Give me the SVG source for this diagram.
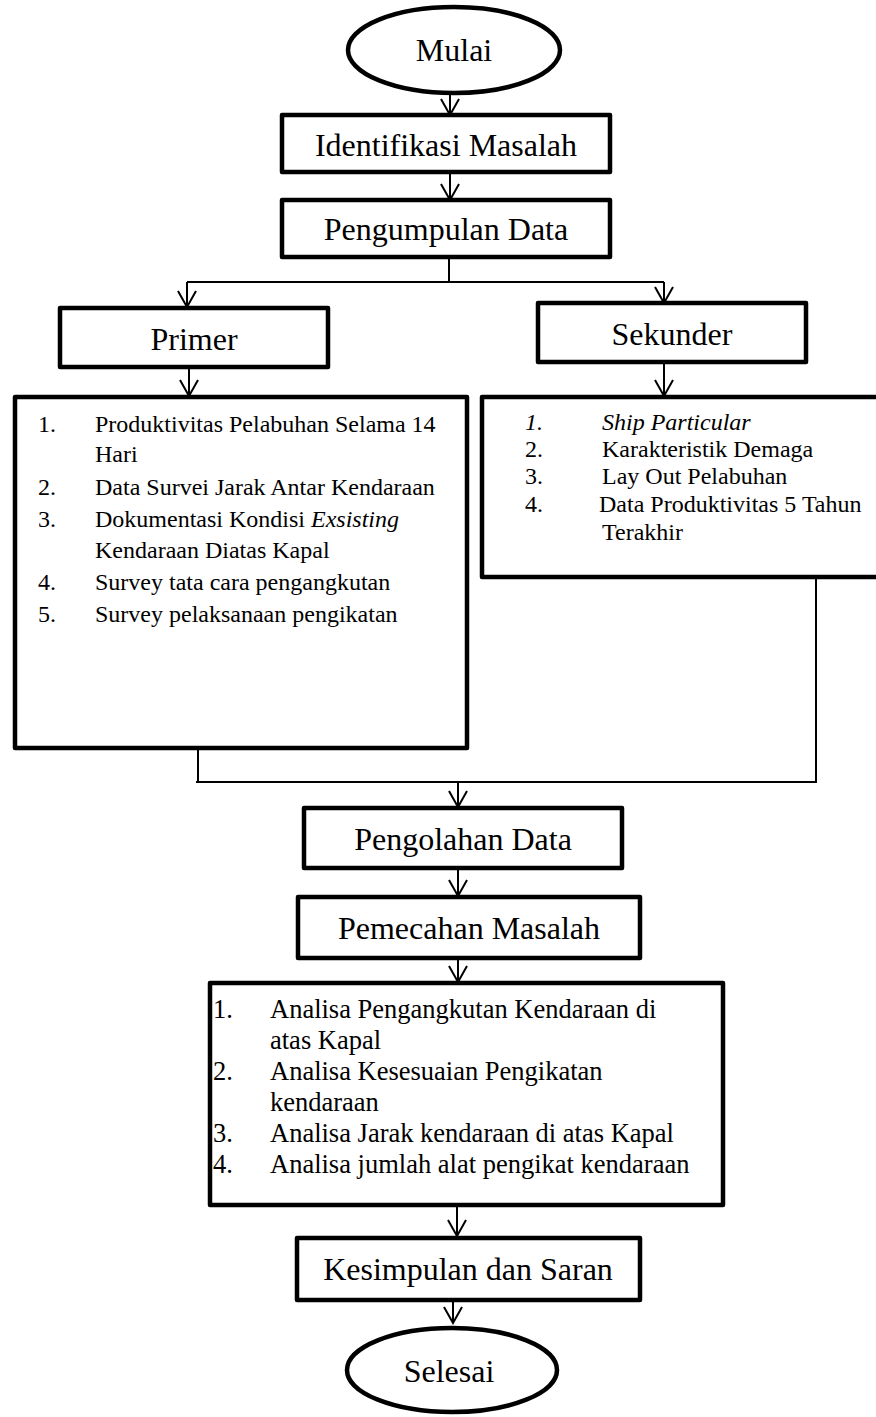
<svg xmlns="http://www.w3.org/2000/svg" width="876" height="1417" viewBox="0 0 876 1417">
<style>
.box{fill:#fff;stroke:#000;stroke-width:4.5;stroke-linejoin:round}
.term{fill:#fff;stroke:#000;stroke-width:4.5}
.con{fill:none;stroke:#000;stroke-width:2}
.arr{fill:none;stroke:#000;stroke-width:2;marker-end:url(#ah)}
.t{font-family:"Liberation Serif","Times New Roman",serif;fill:#000}
.big{font-size:32px;text-anchor:middle}
.l24{font-size:24px}
.l26{font-size:26.5px}
.it{font-style:italic}
</style>
<defs>
<marker id="ah" viewBox="0 0 20 20" refX="18" refY="10" markerWidth="20" markerHeight="20" markerUnits="userSpaceOnUse" orient="auto">
<path d="M2,1 L18,10 L2,19" fill="none" stroke="#000" stroke-width="2"/>
</marker>
</defs>
<rect width="876" height="1417" fill="#fff"/>
<g id="connectors">
<path class="arr" d="M450,93 V115"/>
<path class="arr" d="M450,172 V200"/>
<path class="con" d="M449,257 V282 M187,282 H664"/>
<path class="arr" d="M187,282 V307"/>
<path class="arr" d="M664,282 V303"/>
<path class="arr" d="M189,367 V396"/>
<path class="arr" d="M664,362 V396"/>
<path class="con" d="M198,748 V782 M816,577 V782 M196,782 H817"/>
<path class="arr" d="M458,782 V807"/>
<path class="arr" d="M458,868 V896"/>
<path class="arr" d="M458,958 V982"/>
<path class="arr" d="M457,1205 V1236"/>
<path class="arr" d="M453,1300 V1323"/>
</g>
<g id="mulai">
<ellipse class="term" cx="454" cy="50" rx="106" ry="43"/>
<text class="t big" x="454" y="61">Mulai</text>
</g>
<g id="identifikasi">
<rect class="box" x="282" y="115" width="328" height="57"/>
<text class="t big" x="446" y="156">Identifikasi Masalah</text>
</g>
<g id="pengumpulan">
<rect class="box" x="282" y="200" width="328" height="57"/>
<text class="t big" x="446" y="240">Pengumpulan Data</text>
</g>
<g id="primer">
<rect class="box" x="60" y="308" width="268" height="59"/>
<text class="t big" x="194" y="350">Primer</text>
</g>
<g id="sekunder">
<rect class="box" x="538" y="303" width="268" height="59"/>
<text class="t big" x="672" y="345">Sekunder</text>
</g>
<g id="primer-list">
<rect class="box" x="15" y="397" width="452" height="351"/>
<g class="t l24">
<text x="38" y="432">1.</text><text x="95" y="432">Produktivitas Pelabuhan Selama 14</text>
<text x="95" y="462">Hari</text>
<text x="38" y="495">2.</text><text x="95" y="495">Data Survei Jarak Antar Kendaraan</text>
<text x="38" y="527">3.</text><text x="95" y="527">Dokumentasi Kondisi <tspan class="it">Exsisting</tspan></text>
<text x="95" y="558">Kendaraan Diatas Kapal</text>
<text x="38" y="590">4.</text><text x="95" y="590">Survey tata cara pengangkutan</text>
<text x="38" y="622">5.</text><text x="95" y="622">Survey pelaksanaan pengikatan</text>
</g>
</g>
<g id="sekunder-list">
<rect class="box" x="482" y="397" width="420" height="180"/>
<g class="t l24">
<text class="it" x="525" y="430">1.</text><text class="it" x="602" y="430">Ship Particular</text>
<text x="525" y="457">2.</text><text x="602" y="457">Karakteristik Demaga</text>
<text x="525" y="484">3.</text><text x="602" y="484">Lay Out Pelabuhan</text>
<text x="525" y="512">4.</text><text x="599" y="512">Data Produktivitas 5 Tahun</text>
<text x="602" y="540">Terakhir</text>
</g>
</g>
<g id="pengolahan">
<rect class="box" x="304" y="808" width="318" height="60"/>
<text class="t big" x="463" y="850">Pengolahan Data</text>
</g>
<g id="pemecahan">
<rect class="box" x="298" y="897" width="342" height="61"/>
<text class="t big" x="469" y="939">Pemecahan Masalah</text>
</g>
<g id="analisa">
<rect class="box" x="210" y="983" width="513" height="222"/>
<g class="t l26">
<text x="213" y="1018">1.</text><text x="270" y="1018">Analisa Pengangkutan Kendaraan di</text>
<text x="270" y="1049">atas Kapal</text>
<text x="213" y="1080">2.</text><text x="270" y="1080">Analisa Kesesuaian Pengikatan</text>
<text x="270" y="1111">kendaraan</text>
<text x="213" y="1142">3.</text><text x="270" y="1142">Analisa Jarak kendaraan di atas Kapal</text>
<text x="213" y="1173">4.</text><text x="270" y="1173">Analisa jumlah alat pengikat kendaraan</text>
</g>
</g>
<g id="kesimpulan">
<rect class="box" x="297" y="1238" width="343" height="62"/>
<text class="t big" x="468" y="1280">Kesimpulan dan Saran</text>
</g>
<g id="selesai">
<ellipse class="term" cx="452" cy="1370" rx="105" ry="42"/>
<text class="t big" x="449" y="1382">Selesai</text>
</g>
</svg>
